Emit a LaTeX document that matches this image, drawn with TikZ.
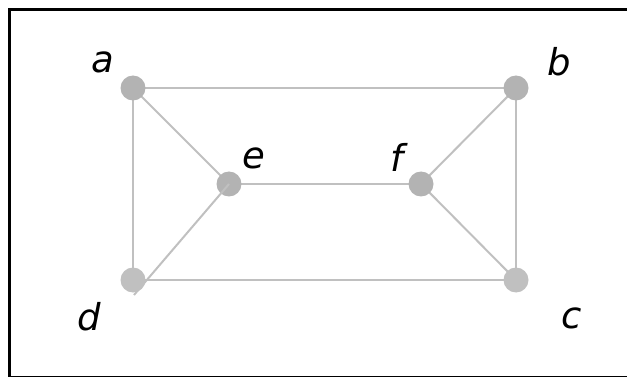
\documentclass[tikz,border=0pt]{standalone}
\usepackage{fontspec}
\setmainfont{DejaVu Sans}
\usetikzlibrary{positioning}

\definecolor{nodedark}{RGB}{179,179,179}
\definecolor{nodelight}{RGB}{192,192,192}
\definecolor{edgegray}{RGB}{192,192,192}

\begin{document}
\begin{tikzpicture}[x=1pt, y=-1pt,
    vtx/.style={circle, fill=nodedark, minimum size=25pt, inner sep=0pt},
    vtxl/.style={vtx, fill=nodelight},
    lab/.style={font=\fontsize{37}{40}\selectfont\itshape, inner sep=0pt},
    edge/.style={draw=edgegray, line width=2pt}]
  \useasboundingbox (0,0) rectangle (627,377);
  % ---- frame
  \draw[line width=3pt] (9,9.5) rectangle (640,377.9);
  % ---- vertices
  \coordinate (A) at (133,88);  \coordinate (B) at (516,88);
  \coordinate (E) at (229,184); \coordinate (F) at (421,184);
  \coordinate (D) at (133,280); \coordinate (C) at (516,280);
  \coordinate (dend) at (134,295);
  % ---- edges
  \draw[edge] (A) -- (B);
  \draw[edge] (A) -- (E);
  \draw[edge] (A) -- (D);
  \draw[edge] (B) -- (F);
  \draw[edge] (B) -- (C);
  \draw[edge] (E) -- (F);
  \draw[edge] (F) -- (C);
  \draw[edge] (D) -- (C);
  \node[vtx] (a) at (A) {};
  \node[vtx] (b) at (B) {};
  \node[vtx] (e) at (E) {};
  \node[vtx] (f) at (F) {};
  \node[vtxl] (c) at (C) {};
  \draw[edge] (e.center) -- (dend);
  \node[vtxl] (d) at (D) {};
  % ---- labels
  \node[lab] (la) at (103,62) {a};
  \node[lab] (lb) at (559,62) {b};
  \node[lab] (le) at (254,158) {e};
  \node[lab] (lf) at (397,157) {f};
  \node[lab] (ld) at (89,317) {d};
  \node[lab] (lc) at (572,318) {c};
\end{tikzpicture}
\end{document}
